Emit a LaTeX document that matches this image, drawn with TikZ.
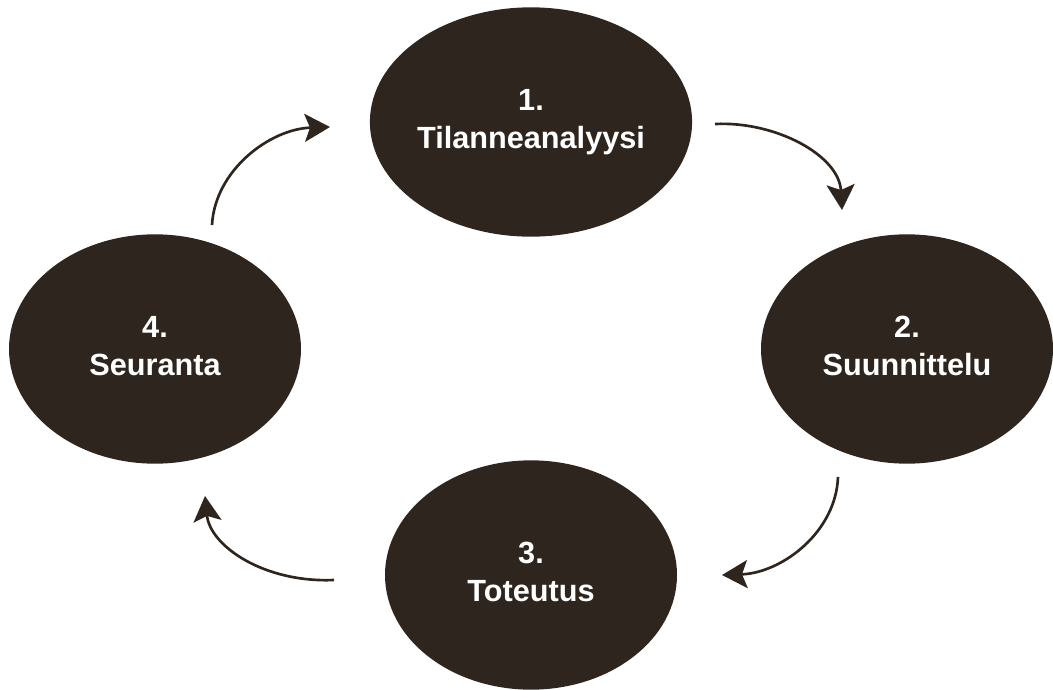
\documentclass[tikz,border=0pt]{standalone}
\usepackage{fontspec}
\setmainfont{Liberation Sans}
\usetikzlibrary{shapes.geometric,arrows.meta}
\definecolor{phasebrown}{RGB}{46,38,30}
\begin{document}
\begin{tikzpicture}[x=0.75pt,y=0.75pt,yscale=-1,xscale=1,
  phase/.style={ellipse, fill=phasebrown, draw=none, inner sep=0pt, minimum width=219pt, minimum height=172pt,
    text=white, align=center, font=\fontsize{23}{28.5}\selectfont\bfseries},
  cyclearrow/.style={draw=phasebrown, line width=2pt, -{Stealth[length=19pt,width=21pt,inset=4pt]}}]
\useasboundingbox (0,0) rectangle (1053,689);

%Shape: Ellipse 1
\node [phase] (analyysi) at (531,122) {1.\\Tilanneanalyysi};
%Shape: Ellipse 2
\node [phase] (suunnittelu) at (907,349) {2.\\Suunnittelu\vphantom{y}};
%Shape: Ellipse 3
\node [phase] (toteutus) at (531,575) {3.\\Toteutus\vphantom{y}};
%Shape: Ellipse 4
\node [phase] (seuranta) at (155,349) {4.\\Seuranta\vphantom{y}};

%Curve Lines 1 -> 2
\coordinate (s12) at (715,124);
\coordinate (e12) at (842,210);
\draw [cyclearrow] (s12) .. controls +(60,-3) and +(-3,-55) .. (e12);
%Curve Lines 2 -> 3
\coordinate (s23) at (838,477);
\coordinate (e23) at (722,575);
\draw [cyclearrow] (s23) .. controls +(-2,55) and +(60,-2) .. (e23);
%Curve Lines 3 -> 4
\coordinate (s34) at (334,580);
\coordinate (e34) at (205,496);
\draw [cyclearrow] (s34) .. controls +(-70,3) and +(5,50) .. (e34);
%Curve Lines 4 -> 1
\coordinate (s41) at (212,225);
\coordinate (e41) at (330,127);
\draw [cyclearrow] (s41) .. controls +(3,-55) and +(-60,2) .. (e41);
\end{tikzpicture}
\end{document}
